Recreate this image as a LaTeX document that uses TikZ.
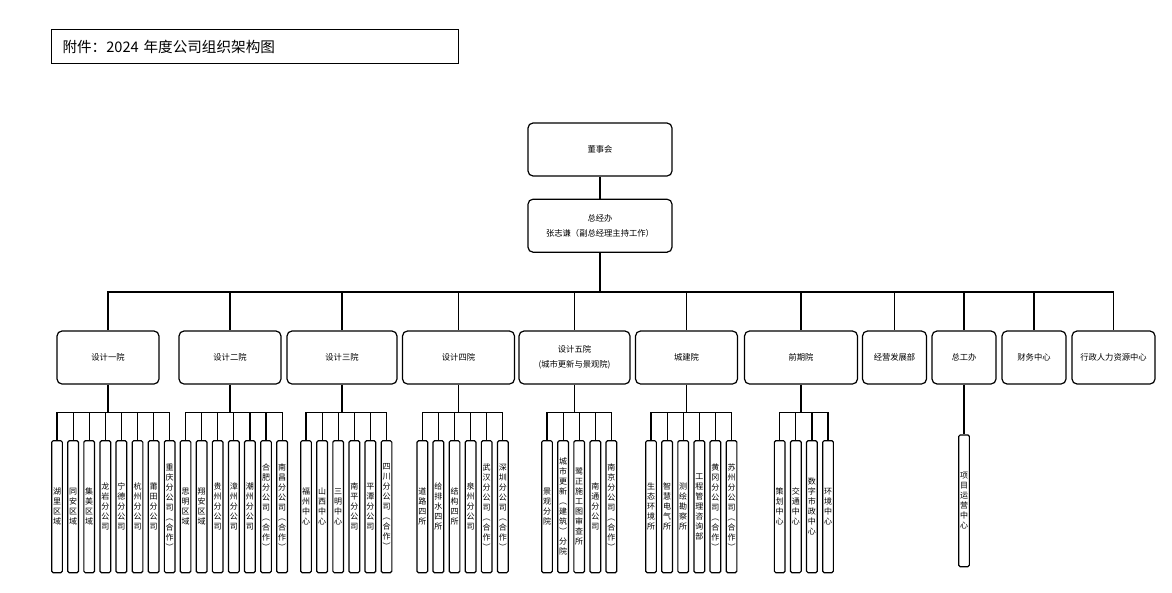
\documentclass[tikz,border=0pt]{standalone}
\usepackage{fontspec}
\setmainfont{Noto Sans CJK SC}
\usetikzlibrary{positioning}

\tikzset{
  orgbox/.style={draw, line width=1.2pt, rounded corners=5pt, minimum height=53pt,
    inner sep=2pt, align=center, font=\fontsize{8.3}{15}\selectfont},
  leaf/.style={draw, line width=1.2pt, rounded corners=1.5pt, minimum width=10.7pt,
    minimum height=132pt, inner sep=0pt, align=center, font=\fontsize{8}{10}\selectfont},
  link/.style={line width=1.2pt}
}

\begin{document}
\begin{tikzpicture}[x=1pt, y=-1pt]
        \useasboundingbox (0,0) rectangle (1172,592);

        % Title
        \node[draw, line width=1pt, anchor=north west, minimum height=34pt, text width=385pt,
              inner xsep=11pt, align=left, font=\fontsize{14.6}{14.6}\selectfont] (title) at (51,29)
              {附件：2024 年度公司组织架构图};

        % Top of the tree
        \node[orgbox, minimum width=144pt] (dsh) at (600,149.5) {董事会};
        \node[orgbox, minimum width=144pt, below=22pt of dsh] (zjb) {总经办\\张志谦（副总经理主持工作）};
        \draw[link] (dsh) -- (zjb);

        % Departments
        \node[orgbox, minimum width=102pt] (y1) at (108,357.5) {设计一院};
        \node[orgbox, minimum width=102pt] (y2) at (230,357.5) {设计二院};
        \node[orgbox, minimum width=110pt] (y3) at (342,357.5) {设计三院};
        \node[orgbox, minimum width=112pt] (y4) at (458.5,357.5) {设计四院};
        \node[orgbox, minimum width=111pt] (y5) at (574.5,357.5) {设计五院\\(城市更新与景观院)};
        \node[orgbox, minimum width=102pt] (y6) at (686.5,357.5) {城建院};
        \node[orgbox, minimum width=113pt] (y7) at (801,357.5) {前期院};
        \node[orgbox, minimum width=64pt] (jy) at (894.5,357.5) {经营发展部};
        \node[orgbox, minimum width=64pt] (zgb) at (964,357.5) {总工办};
        \node[orgbox, minimum width=64pt] (cw) at (1034,357.5) {财务中心};
        \node[orgbox, minimum width=83pt] (xz) at (1113.5,357.5) {行政人力资源中心};

        % Main bus
        \coordinate (top) at (600,292);
        \draw[link] (zjb) -- (top);
        \foreach \n in {y1,y2,y3,y4,y5,y6,y7,jy,zgb,cw,xz}
          \draw[link] (top) -| (\n.north);

        % Sub-bus junctions
        \coordinate (b1) at (108,412.7);
        \coordinate (b2) at (230,412.7);
        \coordinate (b3) at (342,412.7);
        \coordinate (b4) at (458.5,412.7);
        \coordinate (b5) at (574.5,412.7);
        \coordinate (b6) at (686.5,412.7);
        \coordinate (b7) at (801,412.7);
        \foreach \k in {1,...,7}
          \draw[link] (y\k) -- (b\k);

        % Design institute 1
        \foreach \txt [count=\i] in {湖\\里\\区\\域,同\\安\\区\\域,集\\美\\区\\域,龙\\岩\\分\\公\\司,
            宁\\德\\分\\公\\司,杭\\州\\分\\公\\司,莆\\田\\分\\公\\司,重\\庆\\分\\公\\司\\︵\\合\\作\\︶} {
          \node[leaf] (g1-\i) at ({57+(\i-1)*16.1},506.7) {\txt};
          \draw[link] (b1) -| (g1-\i.north);
        }

        % Design institute 2
        \foreach \txt [count=\i] in {思\\明\\区\\域,翔\\安\\区\\域,贵\\州\\分\\公\\司,漳\\州\\分\\公\\司,
            潮\\州\\分\\公\\司,合\\肥\\分\\公\\司\\︵\\合\\作\\︶,南\\昌\\分\\公\\司\\︵\\合\\作\\︶} {
          \node[leaf] (g2-\i) at ({185.5+(\i-1)*16.1},506.7) {\txt};
          \draw[link] (b2) -| (g2-\i.north);
        }

        % Design institute 3
        \foreach \txt [count=\i] in {福\\州\\中\\心,山\\西\\中\\心,三\\明\\中\\心,南\\平\\分\\公\\司,
            平\\潭\\分\\公\\司,四\\川\\分\\公\\司\\︵\\合\\作\\︶} {
          \node[leaf] (g3-\i) at ({306+(\i-1)*16.1},506.7) {\txt};
          \draw[link] (b3) -| (g3-\i.north);
        }

        % Design institute 4
        \foreach \txt [count=\i] in {道\\路\\四\\所,给\\排\\水\\四\\所,结\\构\\四\\所,泉\\州\\分\\公\\司,
            武\\汉\\分\\公\\司\\︵\\合\\作\\︶,深\\圳\\分\\公\\司\\︵\\合\\作\\︶} {
          \node[leaf] (g4-\i) at ({422.3+(\i-1)*16.1},506.7) {\txt};
          \draw[link] (b4) -| (g4-\i.north);
        }

        % Design institute 5
        \foreach \txt [count=\i] in {景\\观\\分\\院,城\\市\\更\\新\\︵\\建\\筑\\︶\\分\\院,
            鹭\\正\\施\\工\\图\\审\\查\\所,南\\通\\分\\公\\司,南\\京\\分\\公\\司\\︵\\合\\作\\︶} {
          \node[leaf] (g5-\i) at ({547+(\i-1)*16.1},506.7) {\txt};
          \draw[link] (b5) -| (g5-\i.north);
        }

        % Urban construction institute
        \foreach \txt [count=\i] in {生\\态\\环\\境\\所,智\\慧\\电\\气\\所,测\\绘\\勘\\察\\所,
            工\\程\\管\\理\\咨\\询\\部,黄\\冈\\分\\公\\司\\︵\\合\\作\\︶,苏\\州\\分\\公\\司\\︵\\合\\作\\︶} {
          \node[leaf] (g6-\i) at ({651+(\i-1)*16.1},506.7) {\txt};
          \draw[link] (b6) -| (g6-\i.north);
        }

        % Early-stage institute
        \foreach \txt [count=\i] in {策\\划\\中\\心,交\\通\\中\\心,数\\字\\市\\政\\中\\心,环\\境\\中\\心} {
          \node[leaf] (g7-\i) at ({779.7+(\i-1)*16.1},506.7) {\txt};
          \draw[link] (b7) -| (g7-\i.north);
        }

        % Chief engineer office
        \node[leaf, minimum height=131.7pt] (xm) at (964,500.8) {项\\目\\运\\营\\中\\心};
        \draw[link] (zgb) -- (xm);
    \end{tikzpicture}
\end{document}
